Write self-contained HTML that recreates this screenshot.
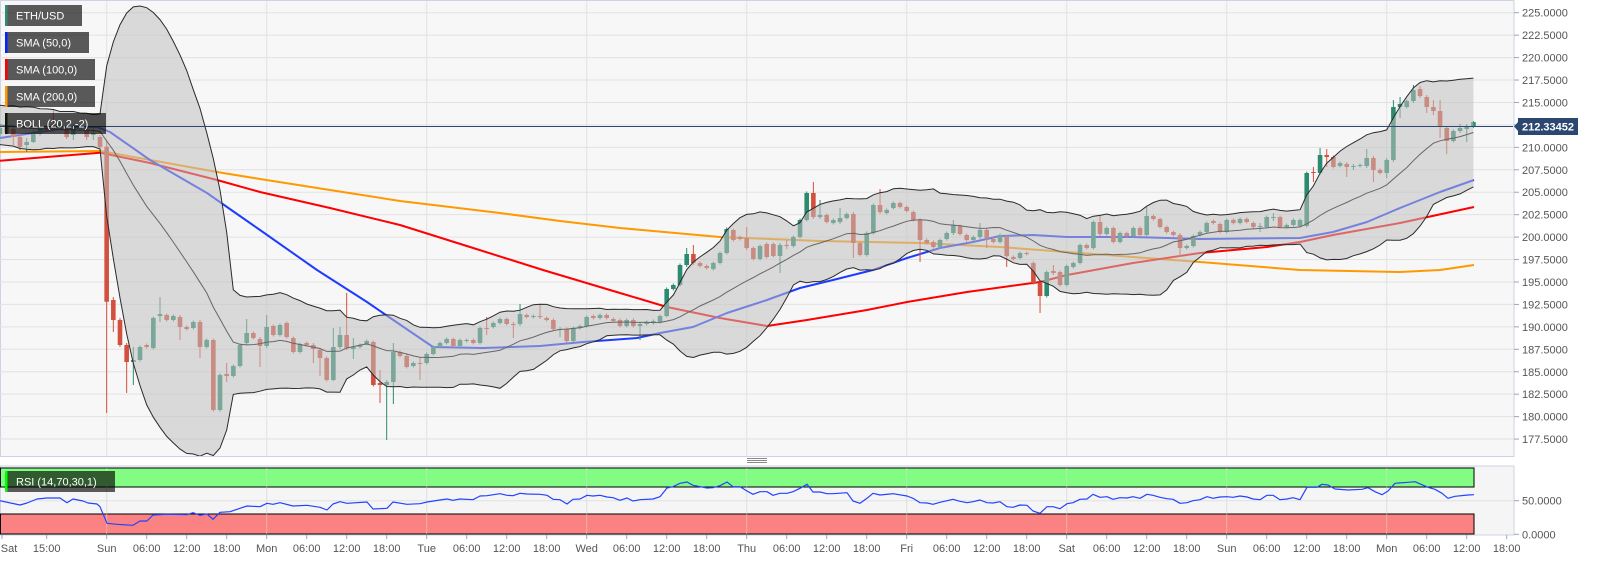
<!DOCTYPE html>
<html><head><meta charset="utf-8">
<style>
html,body{margin:0;padding:0;background:#fff;width:1604px;height:561px;overflow:hidden;}
svg{display:block;font-family:"Liberation Sans",Arial,sans-serif;}
.ax{font-size:11px;fill:#555;}
.lb{font-size:11px;fill:#fff;}
</style></head><body>
<svg id="c" xmlns="http://www.w3.org/2000/svg" width="1604" height="561" viewBox="0 0 1604 561">
<defs>
<clipPath id="cp"><rect x="0" y="1" width="1513" height="455"/></clipPath>
<clipPath id="cp2"><rect x="0" y="467" width="1513" height="68"/></clipPath>
</defs>
<rect x="0" y="0" width="1604" height="561" fill="#fff"/>
<rect x="0.5" y="0.5" width="1513.5" height="456" fill="#f7f7f7" stroke="#cdd3e3"/>
<rect x="0.5" y="466" width="1513.5" height="69" fill="#f5f5f5" stroke="#cdd3e3"/>
<g id="grid" stroke="#e2e2e2" stroke-width="1"></g>
<g clip-path="url(#cp)">
<g fill="none" stroke-width="2" stroke-linejoin="round">
<polyline stroke="#ff9900" points="0,152 100,151 167,163 217,172 260,179 330,190 400,201 500,213 560,221 620,228 720,237 820,241 920,243 1000,247 1067,252 1133,257 1200,262 1300,270 1400,272 1440,270 1474,265"/>
<polyline stroke="#ff0000" points="0,160.7 100,152.7 150,163 217,180 260,192 330,208 400,225 470,247 543,270 620,293 667,307 720,318 767,326 807,320 867,310 907,302 967,292 1040,282 1067,275 1133,263 1200,253 1267,247 1300,242 1333,235 1400,223 1474,207"/>
<polyline stroke="#1e3cff" points="0,138 33,133 67,128 97,127 110,132 150,160 207,193 227,207 260,230 317,270 367,302 383,313 433,347 483,348 540,346 583,342 637,338 660,333 693,327 727,313 767,300 800,288 833,280 873,270 907,258 940,248 973,242 1000,236 1033,235 1067,237 1133,237 1200,239 1300,238 1333,232 1367,222 1400,208 1440,192 1474,180"/>
</g>
<g id="candles"></g>
<g id="bands"></g>
<line x1="0" y1="126.5" x2="1514" y2="126.5" stroke="#2c4770" stroke-width="1"/>
</g>
<!-- RSI panel -->
<g id="rsigrid" stroke="#e2e2e2"></g>
<rect x="0.5" y="468" width="1473.5" height="19" fill="#7cfc7c" fill-opacity="0.95" stroke="#000" stroke-width="1"/>
<rect x="0.5" y="514" width="1473.5" height="20" fill="#fa7b7b" fill-opacity="0.95" stroke="#000" stroke-width="1"/>
<g id="rsigrid2" stroke="#e0e0e0" stroke-opacity="0.5"></g>
<polyline fill="none" stroke="#2244ff" stroke-width="1.2" stroke-linejoin="round" points="0,500.7 20,505 27,503 37,499 47,498 60,498 67,502.7 73,499 83,501 88,503 97,504 100,506.7 107,523.3 117,524.3 133,525.3 140,521 147,521 153,515 167,514.3 187,514.7 193,512.7 200,515.3 207,514 213,519.3 220,512.3 230,511.7 240,508.3 247,506 260,506.7 267,503.3 273,504.3 280,502.7 293,506 307,505.3 320,507.3 327,510 333,504 340,501.7 347,503.3 367,502 373,509 387,508.3 393,502 407,504.3 420,503.7 427,502 440,500 447,499 453,500.3 460,499 473,499.7 480,496 487,495.7 500,493.7 507,495.3 513,495.7 520,493.3 527,494 540,494.3 547,495.3 553,499.3 560,499.7 567,504 573,499.3 580,499 587,495.3 593,496 600,495.3 607,497 613,497.7 620,500.3 627,498 633,501 640,499.7 653,499 660,496.7 667,488 673,486.7 680,483.3 687,482 693,485.3 707,488 713,487.7 720,485.7 727,482 733,486.7 740,486.7 747,491 753,494.3 760,491.7 767,491.7 773,495.3 780,493.3 787,493.3 793,491.7 800,488.3 807,484.3 813,492 820,492 827,493.7 833,493.7 847,492.7 853,501 860,503.3 867,498.3 873,493.3 880,495 893,493.7 907,496 913,498.3 920,502.7 927,503 933,504.3 940,502.3 953,499.3 960,501.3 967,502.7 973,501.7 980,500 987,502.7 993,503 1000,501.7 1007,506.7 1013,507.3 1020,505 1027,505.3 1033,511 1040,513.3 1047,506.7 1053,506.7 1060,508.7 1067,503.7 1073,502.7 1080,499.3 1087,499 1093,494.3 1100,497.3 1107,496.7 1113,499.3 1120,497.7 1127,498 1133,496.7 1140,498.3 1147,494.3 1153,495.3 1160,497.3 1167,498.7 1173,499.3 1180,503.3 1187,502.7 1193,500.7 1200,499.7 1207,496.7 1213,498.3 1220,497 1227,496.7 1233,497.3 1240,496 1247,497 1253,499 1260,499.7 1267,495.3 1273,495.3 1280,499.7 1287,499 1293,497.7 1300,499.7 1307,487.3 1317,487.3 1322,484.3 1328,485 1335,489 1348,490 1362,489.3 1368,487.7 1375,491.7 1382,494.7 1388,491 1395,483.3 1408,482.3 1415,481.7 1428,487.3 1435,489.3 1442,493.3 1448,498.3 1455,496.3 1468,495 1474,494.7"/>
<!-- separator handle -->
<g stroke="#8a8a8a" stroke-width="1">
<line x1="747" y1="458.5" x2="767" y2="458.5"/><line x1="747" y1="460.5" x2="767" y2="460.5"/><line x1="747" y1="462.5" x2="767" y2="462.5"/>
</g>
<!-- legend boxes -->
<rect x="5" y="5" width="77" height="21" fill="rgba(0,0,0,0.64)"/><rect x="5" y="5" width="2.5" height="21" fill="#2e8b74"/>
<text class="lb" x="16" y="19.5">ETH/USD</text>
<rect x="5" y="32" width="84" height="21" fill="rgba(0,0,0,0.64)"/><rect x="5" y="32" width="2.5" height="21" fill="#0026ff"/>
<text class="lb" x="16" y="46.5">SMA (50,0)</text>
<rect x="5" y="59" width="90" height="21" fill="rgba(0,0,0,0.64)"/><rect x="5" y="59" width="2.5" height="21" fill="#ff0000"/>
<text class="lb" x="16" y="73.5">SMA (100,0)</text>
<rect x="5" y="86" width="90" height="21" fill="rgba(0,0,0,0.64)"/><rect x="5" y="86" width="2.5" height="21" fill="#ff9900"/>
<text class="lb" x="16" y="100.5">SMA (200,0)</text>
<rect x="5" y="113" width="101" height="21" fill="rgba(0,0,0,0.64)"/><rect x="5" y="113" width="2.5" height="21" fill="#0a1a0a"/>
<text class="lb" x="16" y="127.5">BOLL (20,2,-2)</text>
<rect x="5" y="471" width="110" height="21" fill="rgba(0,0,0,0.64)"/><rect x="5" y="471" width="2.5" height="21" fill="#00ff00"/>
<text class="lb" x="16" y="485.5">RSI (14,70,30,1)</text>
<!-- right axis -->
<g id="rticks" stroke="#9aa4bb"></g>
<g class="ax">
<text x="1522" y="16.7">225.0000</text>
<text x="1522" y="39.1">222.5000</text>
<text x="1522" y="61.6">220.0000</text>
<text x="1522" y="84.0">217.5000</text>
<text x="1522" y="106.5">215.0000</text>
<text x="1522" y="151.4">210.0000</text>
<text x="1522" y="173.8">207.5000</text>
<text x="1522" y="196.2">205.0000</text>
<text x="1522" y="218.7">202.5000</text>
<text x="1522" y="241.1">200.0000</text>
<text x="1522" y="263.6">197.5000</text>
<text x="1522" y="286.0">195.0000</text>
<text x="1522" y="308.4">192.5000</text>
<text x="1522" y="330.9">190.0000</text>
<text x="1522" y="353.3">187.5000</text>
<text x="1522" y="375.8">185.0000</text>
<text x="1522" y="398.2">182.5000</text>
<text x="1522" y="420.6">180.0000</text>
<text x="1522" y="443.1">177.5000</text>
<text x="1522" y="504.7">50.0000</text>
<text x="1522" y="538.3">0.0000</text>
</g>
<path d="M1514,126.5 L1518,122 L1518,131 Z" fill="#2c4770"/>
<rect x="1518" y="118" width="60" height="17" fill="#2c4770"/>
<text x="1522" y="130.5" font-size="11" font-weight="bold" fill="#fff">212.33452</text>
<!-- bottom axis -->
<g id="bticks" stroke="#9aa4bb"></g>
<g class="ax" text-anchor="middle">
<text x="9" y="552">Sat</text>
<text x="46.7" y="552">15:00</text>
<text x="106.7" y="552">Sun</text>
<text x="146.7" y="552">06:00</text>
<text x="186.7" y="552">12:00</text>
<text x="226.7" y="552">18:00</text>
<text x="266.7" y="552">Mon</text>
<text x="306.7" y="552">06:00</text>
<text x="346.7" y="552">12:00</text>
<text x="386.7" y="552">18:00</text>
<text x="426.7" y="552">Tue</text>
<text x="466.7" y="552">06:00</text>
<text x="506.7" y="552">12:00</text>
<text x="546.7" y="552">18:00</text>
<text x="586.7" y="552">Wed</text>
<text x="626.7" y="552">06:00</text>
<text x="666.7" y="552">12:00</text>
<text x="706.7" y="552">18:00</text>
<text x="746.7" y="552">Thu</text>
<text x="786.7" y="552">06:00</text>
<text x="826.7" y="552">12:00</text>
<text x="866.7" y="552">18:00</text>
<text x="906.7" y="552">Fri</text>
<text x="946.7" y="552">06:00</text>
<text x="986.7" y="552">12:00</text>
<text x="1026.7" y="552">18:00</text>
<text x="1066.7" y="552">Sat</text>
<text x="1106.7" y="552">06:00</text>
<text x="1146.7" y="552">12:00</text>
<text x="1186.7" y="552">18:00</text>
<text x="1226.7" y="552">Sun</text>
<text x="1266.7" y="552">06:00</text>
<text x="1306.7" y="552">12:00</text>
<text x="1346.7" y="552">18:00</text>
<text x="1386.7" y="552">Mon</text>
<text x="1426.7" y="552">06:00</text>
<text x="1466.7" y="552">12:00</text>
<text x="1506.7" y="552">18:00</text>
</g>
</svg>
<script>
(function(){
var NS="http://www.w3.org/2000/svg";
function el(p,t,a){var e=document.createElementNS(NS,t);for(var k in a)e.setAttribute(k,a[k]);p.appendChild(e);return e;}
var grid=document.getElementById('grid');
for(var n=0;n<20;n++){var y=12.7+n*22.44;el(grid,'line',{x1:0,y1:y,x2:1514,y2:y});}
for(var k=0;k<9;k++){var x=106.7+160*k;el(grid,'line',{x1:x,y1:1,x2:x,y2:456});}
var rg=document.getElementById('rsigrid');
el(rg,'line',{x1:0,y1:500.7,x2:1514,y2:500.7});
var rg2=document.getElementById('rsigrid2');
for(var k=0;k<9;k++){var x=106.7+160*k;el(rg,'line',{x1:x,y1:467,x2:x,y2:535});el(rg2,'line',{x1:x,y1:468,x2:x,y2:534});}
var rt=document.getElementById('rticks');
for(var n=0;n<20;n++){var y=12.7+n*22.44;el(rt,'line',{x1:1514,y1:y,x2:1519,y2:y});}
el(rt,'line',{x1:1514,y1:500.7,x2:1519,y2:500.7});el(rt,'line',{x1:1514,y1:534.3,x2:1519,y2:534.3});
var bt=document.getElementById('bticks');
var tx=[2,46.7];for(var x=106.7;x<=1507;x+=40)tx.push(x);
tx.forEach(function(x){el(bt,'line',{x1:x,y1:535,x2:x,y2:539});});
var D=[
['g',128,134,124,138],['r',126,133],['r',129,137,126,145],['r',137,147,134,150],['g',142,145,138,152],['g',134,142,130,143],['g',128,134],['r',126,130],['r',124,130,109,132],['g',124,128],['r',128,137,125,139],['g',128,135,124,140],['g',126,129],['r',130,137,127,140],['g',133,135,127,140],['r',137,147,135,150],
['r',146.7,301.7,140,413],['r',300,320,297,332],['r',320,345,318,347],['r',345,362,343,393],['g',360,362,347,385],['g',347,360],['r',345,347],['g',318,348],['g',314,316,297,322],['r',315,320],['g',316,320],['r',317,327,315,340],['r',327,329],['g',322,328],['r',322,347,320,358],['g',340,347],['r',340,410],['g',375,410],['r',374,376,363,382],['g',366,376],['g',345,366],['g',333,343,319,345],['r',333,338],['r',339,346,337,367],['g',327,346,315,348],['r',326,335],['g',325,335],['r',323,337],['r',338,352],['g',344,352],['r',343,345],['r',345,349,343,363],['r',350,358,348,376],['r',358,380],['g',347,380,328,381],['g',335,347,327,349],['r',335,348,293,350],['g',347,349,338,359],['g',345,347],['g',341,344],['r',342,385],['r',383,385,370,403],['g',382,385,380,440],['g',352,382,343,404],['r',352,356],['r',356,367],['g',363,366],['r',363,364,357,380],['g',354,363],['g',347,354],['g',343,347],['g',339,343],['r',339,346],['g',340,346],['g',340,341],['r',340,343],['g',328,343],['r',328,329,317,335],['g',323,327],['g',319,323],['r',319,324],['r',324,325,322,338],['g',314,324,304,326],['r',315,317],['g',316,317],['r',316,317,304,319],['r',318,320],['r',320,329],['g',329,330,327,337],['r',329,341],['g',328,341],['g',326,328],['g',317,326],['r',316,318],['g',315,318],['r',315,318],['r',319,321],['r',320,326],['g',320,326],['r',320,326],['g',324,326,322,340],['g',322,324],['g',321,323],['g',316,322],['g',289,316],['g',285,289],['g',265,285],['g',254,265,248,267],['r',254,263,245,265],['r',263,266],['r',266,268],['g',263,269],['g',253,263],['g',229,253],['r',230,240],['r',237,239],['r',238,248,227,250],['r',248,259],['g',246,259],['r',244,257],['r',244,256],['g',245,256,243,273],['r',245,246,240,249],['g',237,246],['g',220,237],['g',193,220],['r',193,217,182,219],['g',215,217,200,219],['r',215,222],['g',220,223],['g',218,222,208,224],['g',214,218],['r',214,243,212,258],['r',243,255],['g',233,255],['g',205,233],['r',205,212,189,214],['g',210,213],['g',203,208],['r',203,207],['r',207,211],['r',212,220],['r',220,240,218,262],['r',240,243],['r',242,247],['g',240,247],['g',233,239],['g',225,233,220,235],['r',226,234],['r',235,240],['g',237,240],['g',230,237,223,239],['r',230,238,228,248],['r',239,242],['g',235,242],['r',237,256,235,267],['r',257,259],['g',253,258],['r',253,254],['r',263,283],['r',283,296,281,313],['g',272,296],['r',271,273,265,275],['r',272,285],['g',266,285],['g',263,267],['g',245,263],['r',245,248],['g',222,248],['r',222,234,215,236],['g',228,234],['r',228,242],['g',233,242],['r',233,236],['g',228,236],['r',228,235],['g',216,235,207,237],['r',216,219],['r',219,227],['r',227,232],['r',232,235],['r',235,248,233,257],['g',246,248],['g',236,246],['g',232,235],['g',223,232],['r',221,223],['r',224,232],['g',220,232],['r',220,223],['g',219,223],['r',219,222],['r',223,227],['g',226,227,223,232],['g',217,227],['g',217,218,213,221],['r',217,227],['g',225,227],['g',220,225],['g',220,226],['g',173,226],['r',172,173,167,182],['g',155,173,148,175],['r',155,157,149,167],['r',157,167],['g',163,166],['r',164,167,162,177],['g',166,167,164,170],['g',165,166],['g',158,166,149,168],['r',158,170,156,182],['r',170,173],['g',160,173,158,178],['g',107,160,100,162],['g',104,107,97,118],['g',101,107],['g',90,101,85,103],['r',89,96,86,98],['r',97,107,95,113],['r',107,111,100,115],['r',111,127,100,138],['r',128,141,126,154],['g',131,141],['g',128,131,124,133],['g',126,129,124,142],['g',122,126,121,128]
];
var N=D.length, step=6.667;
function X(i){return 1473.4-(N-1-i)*step;}
var cg=document.getElementById('candles');
var G='#2b8a6f',R='#d4503e';
D.forEach(function(d,i){
  var x=X(i),c=d[0]=='g'?G:R,t=d[1],b=d[2];
  var wt=d.length>3?d[3]:t-1.5, wb=d.length>4?d[4]:b+1.5;
  el(cg,'line',{x1:x,y1:wt,x2:x,y2:wb,stroke:c,'stroke-width':1});
  var h=Math.max(1,b-t);
  el(cg,'rect',{x:x-2.3,y:t,width:4.6,height:h,fill:c});
});
var pre=[118,132,110,138,125,115,140,122,112,135,128,116,142,120,130,110,136,124,118];
var cl=pre.slice();
D.forEach(function(d){cl.push(d[0]=='g'?d[1]:d[2]);});
var up=[],lo=[],mid=[],P=pre.length;
for(var i=0;i<N;i++){
  var s=0,j;for(j=i+P-19;j<=i+P;j++)s+=cl[j];var m=s/20;
  var v=0;for(j=i+P-19;j<=i+P;j++)v+=(cl[j]-m)*(cl[j]-m);var sd=Math.sqrt(v/20);
  up.push([X(i),m-2*sd]);lo.push([X(i),m+2*sd]);mid.push([X(i),m]);
}
function pts(a){return a.map(function(p){return p[0].toFixed(1)+','+p[1].toFixed(1);}).join(' ');}
var bg=document.getElementById('bands');
el(bg,'polygon',{points:pts(up)+' '+pts(lo.slice().reverse()),fill:'rgb(191,191,191)','fill-opacity':0.537,stroke:'none'});
el(bg,'polyline',{points:pts(up),fill:'none',stroke:'#2a2a2a','stroke-width':1});
el(bg,'polyline',{points:pts(lo),fill:'none',stroke:'#2a2a2a','stroke-width':1});
el(bg,'polyline',{points:pts(mid),fill:'none',stroke:'#666','stroke-width':1});
})();
</script>
</body></html>
